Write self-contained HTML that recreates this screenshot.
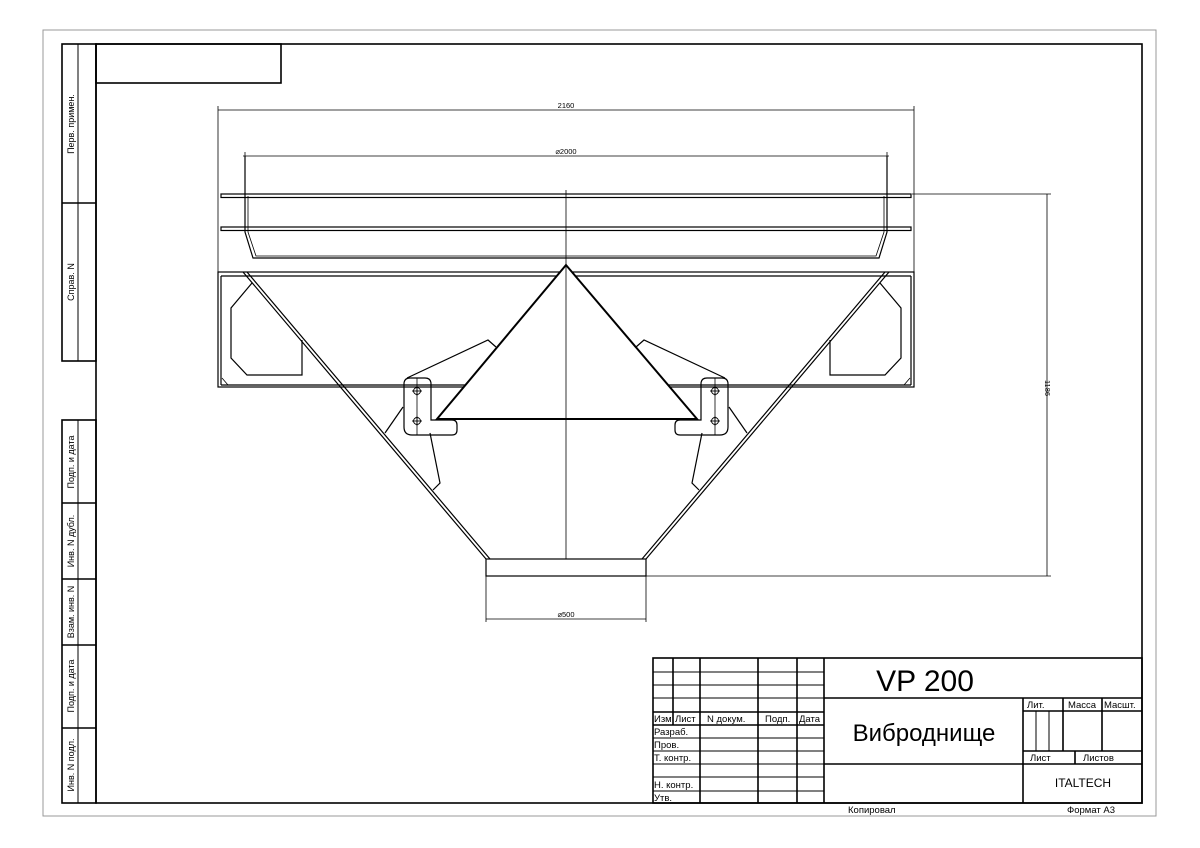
<!DOCTYPE html>
<html><head><meta charset="utf-8"><style>
html,body{margin:0;padding:0;background:#fff;}
svg{display:block;}
text{font-family:"Liberation Sans","DejaVu Sans",sans-serif;fill:#000;}
</style></head><body>
<svg width="1200" height="848" viewBox="0 0 1200 848" xmlns="http://www.w3.org/2000/svg">
<rect x="0" y="0" width="1200" height="848" fill="#fff"/>
<!-- outer gray sheet border -->
<rect x="43" y="30" width="1113" height="786" fill="none" stroke="#999" stroke-width="1"/>
<g stroke="#000" fill="none" stroke-width="1.6">
  <!-- inner frame -->
  <rect x="96" y="44" width="1046" height="759"/>
  <!-- top-left small box -->
  <rect x="96" y="44" width="185" height="39"/>
  <!-- left strip upper -->
  <rect x="62" y="44" width="34" height="317"/>
  <line x1="62" y1="203" x2="96" y2="203"/>
  <!-- left strip lower -->
  <rect x="62" y="420" width="34" height="383"/>
  <line x1="62" y1="503" x2="96" y2="503"/>
  <line x1="62" y1="579" x2="96" y2="579"/>
  <line x1="62" y1="645" x2="96" y2="645"/>
  <line x1="62" y1="728" x2="96" y2="728"/>
</g>
<g stroke="#000" stroke-width="1">
  <line x1="78" y1="44" x2="78" y2="361"/>
  <line x1="78" y1="420" x2="78" y2="803"/>
</g>
<g font-size="9">
  <text transform="translate(74,124) rotate(-90)" text-anchor="middle">Перв. примен.</text>
  <text transform="translate(74,282) rotate(-90)" text-anchor="middle">Справ. N</text>
  <text transform="translate(74,462) rotate(-90)" text-anchor="middle">Подп. и дата</text>
  <text transform="translate(74,541) rotate(-90)" text-anchor="middle">Инв. N дубл.</text>
  <text transform="translate(74,612) rotate(-90)" text-anchor="middle">Взам. инв. N</text>
  <text transform="translate(74,686) rotate(-90)" text-anchor="middle">Подп. и дата</text>
  <text transform="translate(74,765) rotate(-90)" text-anchor="middle">Инв. N подл.</text>
</g>

<!-- TITLE BLOCK -->
<g stroke="#000" fill="none" stroke-width="1.6">
  <rect x="653" y="658" width="489" height="145"/>
  <line x1="824" y1="658" x2="824" y2="803"/>
  <line x1="824" y1="698" x2="1142" y2="698"/>
  <line x1="824" y1="764" x2="1142" y2="764"/>
  <line x1="1023" y1="698" x2="1023" y2="803"/>
  <line x1="1023" y1="711" x2="1142" y2="711"/>
  <line x1="1023" y1="751" x2="1142" y2="751"/>
  <line x1="1063" y1="698" x2="1063" y2="751"/>
  <line x1="1102" y1="698" x2="1102" y2="751"/>
  <line x1="1075" y1="751" x2="1075" y2="764"/>
  <line x1="673" y1="658" x2="673" y2="725"/>
  <line x1="700" y1="658" x2="700" y2="803"/>
  <line x1="758" y1="658" x2="758" y2="803"/>
  <line x1="797" y1="658" x2="797" y2="803"/>
  <line x1="653" y1="712" x2="824" y2="712"/>
  <line x1="653" y1="725" x2="824" y2="725"/>
</g>
<g stroke="#000" stroke-width="1">
  <line x1="1036" y1="711" x2="1036" y2="751"/>
  <line x1="1049" y1="711" x2="1049" y2="751"/>
  <line x1="653" y1="672" x2="824" y2="672"/>
  <line x1="653" y1="685" x2="824" y2="685"/>
  <line x1="653" y1="698" x2="824" y2="698"/>
  <line x1="653" y1="738" x2="824" y2="738"/>
  <line x1="653" y1="751" x2="824" y2="751"/>
  <line x1="653" y1="764" x2="824" y2="764"/>
  <line x1="653" y1="777" x2="824" y2="777"/>
  <line x1="653" y1="791" x2="824" y2="791"/>
</g>
<g font-size="9.5">
  <text x="654" y="722">Изм</text>
  <text x="675" y="722">Лист</text>
  <text x="707" y="722">N докум.</text>
  <text x="765" y="722">Подп.</text>
  <text x="799" y="722">Дата</text>
  <text x="654" y="735">Разраб.</text>
  <text x="654" y="748">Пров.</text>
  <text x="654" y="761">Т. контр.</text>
  <text x="654" y="788">Н. контр.</text>
  <text x="654" y="801">Утв.</text>
  <text x="1027" y="708">Лит.</text>
  <text x="1068" y="708">Масса</text>
  <text x="1104" y="708">Масшт.</text>
  <text x="1030" y="761">Лист</text>
  <text x="1083" y="761">Листов</text>
  <text x="848" y="813">Копировал</text>
  <text x="1067" y="813">Формат А3</text>
</g>
<text x="925" y="691" font-size="30" text-anchor="middle">VP 200</text>
<text x="924" y="741" font-size="24" text-anchor="middle">Виброднище</text>
<text x="1083" y="787" font-size="12" text-anchor="middle">ITALTECH</text>

<!-- DIMENSIONS -->
<g stroke="#000" stroke-width="0.8" fill="none">
  <line x1="218" y1="110" x2="914" y2="110"/>
  <line x1="218" y1="106" x2="218" y2="272"/>
  <line x1="914" y1="106" x2="914" y2="272"/>
  <line x1="243" y1="156" x2="889" y2="156"/>
  <line x1="245" y1="152" x2="245" y2="196"/>
  <line x1="887" y1="152" x2="887" y2="196"/>
  <line x1="912" y1="194" x2="1051" y2="194"/>
  <line x1="646" y1="576" x2="1051" y2="576"/>
  <line x1="1047" y1="194" x2="1047" y2="576"/>
  <line x1="486" y1="576" x2="486" y2="622"/>
  <line x1="646" y1="576" x2="646" y2="622"/>
  <line x1="486" y1="619" x2="646" y2="619"/>
  <line x1="566" y1="190" x2="566" y2="559"/>
</g>
<g font-size="7.5">
  <text x="566" y="108" text-anchor="middle">2160</text>
  <text x="566" y="154" text-anchor="middle">⌀2000</text>
  <text x="566" y="617" text-anchor="middle">⌀500</text>
  <text transform="translate(1045,388) rotate(90)" text-anchor="middle">1186</text>
</g>

<!-- DRAWING -->
<g stroke="#000" fill="none" stroke-width="1.2">
  <!-- top plates -->
  <rect x="221" y="194" width="690" height="3.5"/>
  <rect x="221" y="227" width="690" height="3.5"/>
  <!-- bowl -->
  <path d="M245,156 V232 L253,258 H879 L887,232 V156"/>
  <path d="M248,196 V232 L256,256 H876 L884,232 V196" stroke-width="0.8"/>
  <!-- frame box -->
  <rect x="218" y="272" width="696" height="115"/>
  <line x1="221" y1="276" x2="911" y2="276"/>
  <line x1="221" y1="276" x2="221" y2="385"/>
  <line x1="911" y1="276" x2="911" y2="385"/>
  <line x1="221" y1="385" x2="911" y2="385"/>
  <!-- hopper walls -->
  <line x1="243" y1="272" x2="486" y2="559"/>
  <line x1="247" y1="272" x2="490" y2="559"/>
  <line x1="889" y1="272" x2="646" y2="559"/>
  <line x1="885" y1="272" x2="642" y2="559"/>
  <!-- outlet -->
  <rect x="486" y="559" width="160" height="17"/>
  <!-- octagons -->
  <path d="M252,283 L231,308 V358 L247,375 H302 V340"/>
  <path d="M880,283 L901,308 V358 L885,375 H830 V340"/>
  <line x1="222" y1="378" x2="228" y2="385" stroke-width="0.8"/>
  <line x1="910" y1="378" x2="904" y2="385" stroke-width="0.8"/>
  <!-- left bracket -->
  <path d="M407,378 L488,340 L496,347"/>
  <path d="M403,407 L385,433"/>
  <path d="M430,433 L440,483 L433,490"/>
  <path d="M410,378 H425 Q431,378 431,384 V420 H452 Q457,420 457,425 V430 Q457,435 452,435 H412 Q404,435 404,427 V384 Q404,378 410,378 Z"/>
  <line x1="417" y1="378" x2="417" y2="435" stroke-width="0.8"/>
  <!-- right bracket -->
  <path d="M725,378 L644,340 L636,347"/>
  <path d="M729,407 L747,433"/>
  <path d="M702,433 L692,483 L699,490"/>
  <path d="M722,378 H707 Q701,378 701,384 V420 H680 Q675,420 675,425 V430 Q675,435 680,435 H720 Q728,435 728,427 V384 Q728,378 722,378 Z"/>
  <line x1="715" y1="378" x2="715" y2="435" stroke-width="0.8"/>
</g>
<!-- triangle -->
<path d="M566,265 L437,419 H697 Z" stroke="#000" stroke-width="2" fill="#fff"/>
<line x1="566" y1="265" x2="566" y2="419" stroke="#000" stroke-width="0.8"/>
<!-- bolts -->
<g stroke="#000" stroke-width="0.9" fill="none">
  <circle cx="417" cy="391" r="3.5"/><line x1="412" y1="391" x2="422" y2="391"/><line x1="417" y1="386" x2="417" y2="396"/>
  <circle cx="417" cy="421" r="3.5"/><line x1="412" y1="421" x2="422" y2="421"/><line x1="417" y1="416" x2="417" y2="426"/>
  <circle cx="715" cy="391" r="3.5"/><line x1="710" y1="391" x2="720" y2="391"/><line x1="715" y1="386" x2="715" y2="396"/>
  <circle cx="715" cy="421" r="3.5"/><line x1="710" y1="421" x2="720" y2="421"/><line x1="715" y1="416" x2="715" y2="426"/>
</g>
</svg>
</body></html>
